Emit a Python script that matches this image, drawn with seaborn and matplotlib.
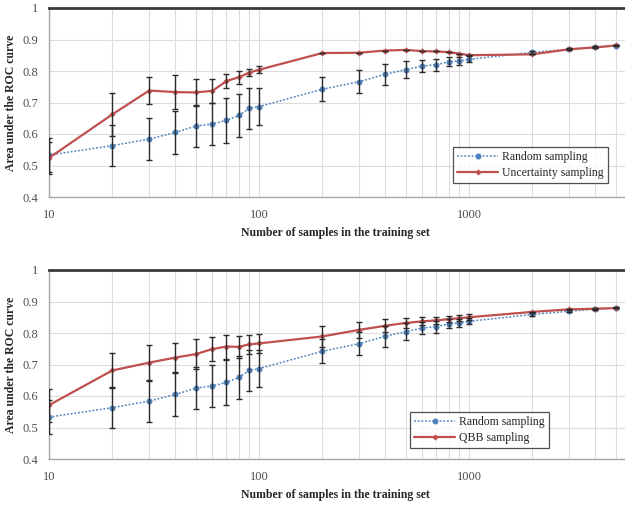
import numpy as np
import pandas as pd
import seaborn as sns
import matplotlib
matplotlib.use("Agg")
import matplotlib.pyplot as plt
from matplotlib.ticker import FixedLocator, FuncFormatter, NullFormatter

# ---------------- data ----------------
samples = [10, 20, 30, 40, 50, 60, 70, 80, 90, 100,
           200, 300, 400, 500, 600, 700, 800, 900, 1000,
           2000, 3000, 4000, 5000]

random_auc = [0.533, 0.563, 0.584, 0.605, 0.625, 0.632, 0.643, 0.659, 0.681, 0.687,
              0.742, 0.766, 0.790, 0.804, 0.816, 0.820, 0.829, 0.832, 0.837,
              0.859, 0.869, 0.876, 0.880]
random_err = [0.055, 0.065, 0.067, 0.067, 0.066, 0.068, 0.070, 0.068, 0.064, 0.060,
              0.038, 0.036, 0.033, 0.027, 0.020, 0.019, 0.014, 0.013, 0.010,
              0.004, 0.003, 0.002, 0.002]

uncert_auc = [0.524, 0.662, 0.738, 0.733, 0.732, 0.737, 0.768, 0.780, 0.795, 0.804,
              0.857, 0.858, 0.865, 0.867, 0.863, 0.862, 0.860, 0.855, 0.850,
              0.853, 0.869, 0.875, 0.881]
uncert_err = [0.050, 0.067, 0.042, 0.054, 0.043, 0.037, 0.022, 0.020, 0.012, 0.011,
              0.0, 0.0, 0.0, 0.0, 0.0, 0.0, 0.0, 0.0, 0.0,
              0.0, 0.0, 0.0, 0.0]

qbb_auc = [0.571, 0.681, 0.706, 0.722, 0.733, 0.749, 0.757, 0.756, 0.764, 0.767,
           0.789, 0.810, 0.823, 0.832, 0.837, 0.840, 0.844, 0.847, 0.850,
           0.867, 0.875, 0.877, 0.879]
qbb_err = [0.052, 0.057, 0.057, 0.047, 0.047, 0.037, 0.038, 0.034, 0.031, 0.030,
           0.032, 0.025, 0.020, 0.015, 0.013, 0.012, 0.010, 0.010, 0.010,
           0.0, 0.0, 0.0, 0.0]

x_ticks = [10, 100, 1000]
y_ticks = [0.4, 0.5, 0.6, 0.7, 0.8, 0.9, 1.0]
x_label = "Number of samples in the training set"
y_label = "Area under the ROC curve"

BLUE = "#4F81BD"
RED = "#C0504D"

sns.set_theme(style="white")
plt.rcParams["font.family"] = ["Liberation Serif", "DejaVu Serif"]

fig = plt.figure(figsize=(6.25, 5.08), dpi=100)
ax_top = fig.add_axes([49 / 625, 1 - 197 / 508, 1 - 49 / 625, 189 / 508])
ax_bot = fig.add_axes([49 / 625, 1 - 459 / 508, 1 - 49 / 625, 189 / 508])


def draw(ax, other_auc, other_err, other_name, legend_bbox):
    df = pd.DataFrame({
        "n": samples * 2,
        "auc": random_auc + other_auc,
        "method": ["Random sampling"] * len(samples) + [other_name] * len(samples),
    })
    sns.lineplot(data=df[df.method == "Random sampling"], x="n", y="auc", ax=ax,
                 color=BLUE, lw=1.1, ls=(0, (1.2, 1.2)), marker="o", markersize=4.3,
                 markeredgewidth=0, label="Random sampling", zorder=3)
    sns.lineplot(data=df[df.method == other_name], x="n", y="auc", ax=ax,
                 color=RED, lw=1.6, marker="D", markersize=3.2,
                 markeredgewidth=0, label=other_name, zorder=4)
    ax.errorbar(samples, random_auc, yerr=random_err, fmt="none",
                ecolor="#2b2b2b", elinewidth=1.0, capsize=2.3, capthick=1.0, zorder=5)
    ax.errorbar(samples, other_auc, yerr=other_err, fmt="none",
                ecolor="#2b2b2b", elinewidth=1.0, capsize=2.3, capthick=1.0, zorder=5)

    ax.set_xscale("log")
    ax.set_xlim(10, 10 ** (3 + (625 - 469) / 210))
    ax.set_ylim(0.4, 1.0)
    ax.xaxis.set_major_locator(FixedLocator(x_ticks))
    ax.xaxis.set_major_formatter(FuncFormatter(lambda v, p: f"{int(round(v))}"))
    ax.xaxis.set_minor_formatter(NullFormatter())
    ax.set_yticks(y_ticks)
    ax.yaxis.set_major_formatter(FuncFormatter(lambda v, p: "1" if abs(v - 1) < 1e-9 else f"{v:.1f}"))
    ax.grid(True, which="major", axis="both", color="#dcdcdc", lw=0.8)
    ax.grid(True, which="minor", axis="x", color="#dcdcdc", lw=0.8)
    ax.tick_params(axis="both", which="both", length=0, labelsize=9, colors="#4d4d4d", pad=8)
    ax.tick_params(axis="x", pad=9)
    ax.spines["right"].set_visible(False)
    ax.spines["top"].set_color("#3a3a3a")
    ax.spines["top"].set_linewidth(2.0)
    for s in ["left", "bottom"]:
        ax.spines[s].set_color("#a6a6a6")
        ax.spines[s].set_linewidth(1.0)
    ax.set_xlabel(x_label, fontsize=8.5, fontweight="bold")
    ax.set_ylabel(y_label, fontsize=8.5, fontweight="bold")
    ax.yaxis.set_label_coords(-32 / (625 - 49), 0.5)
    ax.xaxis.set_label_coords((335 - 49) / (625 - 49), -0.16)

    handles, labels = ax.get_legend_handles_labels()
    leg = ax.legend(handles, labels,
                    loc="upper left", bbox_to_anchor=legend_bbox,
                    bbox_transform=fig.transFigure, borderaxespad=0,
                    frameon=True, fancybox=False,
                    edgecolor="#262626", fontsize=8.5, handlelength=3.5,
                    borderpad=0.35, labelspacing=0.3, handletextpad=0.3)
    leg.get_frame().set_linewidth(0.9)


draw(ax_top, uncert_auc, uncert_err, "Uncertainty sampling", (453 / 625, 1 - 147 / 508))
draw(ax_bot, qbb_auc, qbb_err, "QBB sampling", (410 / 625, 1 - 412 / 508))

fig.savefig("out.png", dpi=100)
